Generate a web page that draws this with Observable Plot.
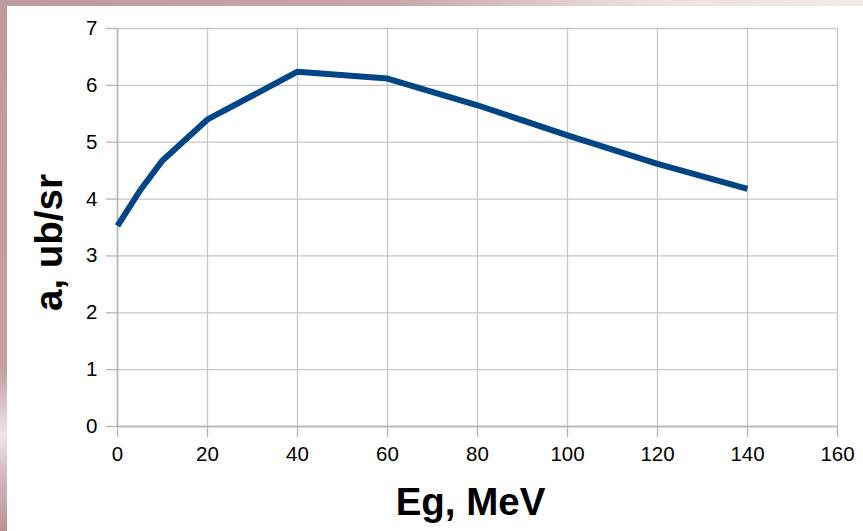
<!DOCTYPE html>
<html><head><meta charset="utf-8">
<script src="https://cdn.jsdelivr.net/npm/d3@7"></script>
<script src="https://cdn.jsdelivr.net/npm/@observablehq/plot@0.6"></script>
<style>
html,body{margin:0;padding:0;}
body{width:863px;height:531px;background:#bf9a9c;position:relative;overflow:hidden;}
#topstrip{position:absolute;left:0;top:0;width:863px;height:6px;background:linear-gradient(to right,#bf9a9c 0%,#c9a5a7 45%,#ecdfdf 75%,#f3eaea 100%);}
#leftstrip{position:absolute;left:0;top:0;width:7px;height:531px;background:linear-gradient(to bottom,#bf9a9c 0%,#c4a0a2 70%,#f1e6e6 82%,#d9bfc1 88%,#b99194 100%);}
#panel{position:absolute;left:7px;top:6px;width:856px;height:525px;background:#fff;}
#chart{position:absolute;left:0;top:0;}
#chart g[aria-label="x-axis tick label"], #chart g[aria-label="y-axis tick label"]{font-size:20.5px;}
</style></head><body>
<div id="topstrip"></div>
<div id="leftstrip"></div>
<div id="panel"></div>
<div id="chart"></div>
<script>
const energy = [0, 5, 10, 20, 40, 60, 80, 100, 120, 140];
const asym = [3.53, 4.15, 4.68, 5.40, 6.24, 6.12, 5.65, 5.12, 4.62, 4.18];
const xTicks = [0, 20, 40, 60, 80, 100, 120, 140, 160];
const yTicks = [0, 1, 2, 3, 4, 5, 6, 7];
const xTitle = "Eg, MeV";
const yTitle = "a, ub/sr";

const data = energy.map((e, i) => ({e, a: asym[i]}));
const font = "'Liberation Sans', Arial, sans-serif";

const chart = Plot.plot({
  width: 863, height: 531,
  marginLeft: 117, marginRight: 26, marginTop: 28, marginBottom: 105,
  style: {background: "transparent", fontFamily: font, fontSize: "20.5px", color: "#000", overflow: "visible"},
  x: {domain: [0, 160], ticks: xTicks},
  y: {domain: [0, 7], ticks: yTicks},
  marks: [
    Plot.gridX(xTicks, {stroke: "#c6c6c6", strokeOpacity: 1, strokeWidth: 1.3}),
    Plot.gridY(yTicks, {stroke: "#c6c6c6", strokeOpacity: 1, strokeWidth: 1.3}),
    Plot.axisX(xTicks, {tickSize: 11, tickPadding: 9, stroke: "#b5b5b5", strokeWidth: 1.3, fill: "#000", fontSize: 20.5, tickFormat: d3.format("d"), label: null}),
    Plot.axisY(yTicks, {tickSize: 11, tickPadding: 9, stroke: "#b5b5b5", strokeWidth: 1.3, fill: "#000", fontSize: 20.5, tickFormat: d3.format("d"), label: null}),
    Plot.ruleY([0], {stroke: "#b5b5b5", strokeWidth: 1.6}),
    Plot.ruleX([0], {stroke: "#b5b5b5", strokeWidth: 1.6}),
    Plot.line(data, {x: "e", y: "a", stroke: "#004586", strokeWidth: 6, strokeLinejoin: "round", strokeLinecap: "butt"}),
    Plot.text([xTitle], {frameAnchor: "bottom", dx: -7, dy: 88, fontWeight: "bold", fontSize: 38.5, fill: "#000"}),
    Plot.text([yTitle], {frameAnchor: "left", textAnchor: "middle", dx: -68, dy: 15, rotate: -90, fontWeight: "bold", fontSize: 38.5, fill: "#000"})
  ]
});
document.getElementById("chart").appendChild(chart);
</script>
</body></html>
